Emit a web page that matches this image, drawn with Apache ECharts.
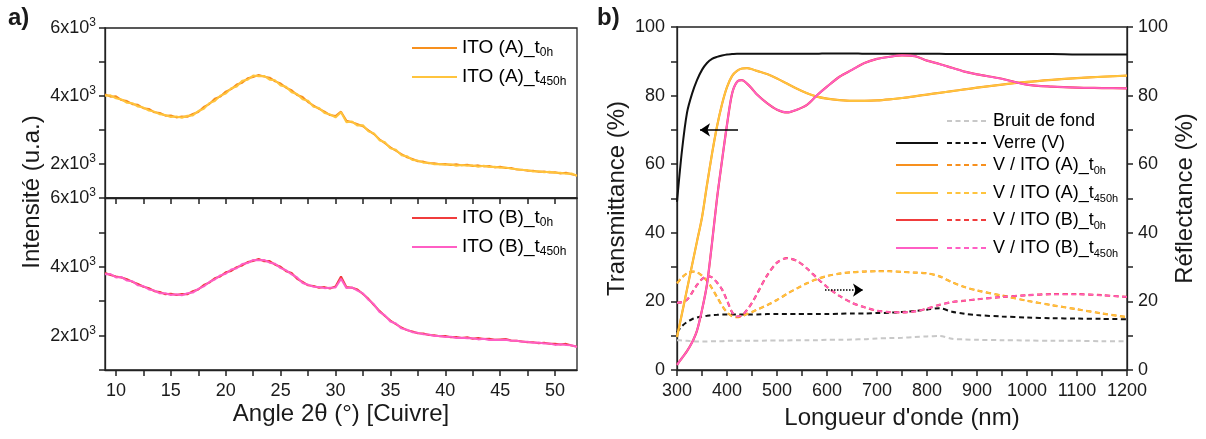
<!DOCTYPE html>
<html><head><meta charset="utf-8">
<script src="https://cdn.jsdelivr.net/npm/echarts@6/dist/echarts.min.js"></script>
<style>html,body{margin:0;padding:0;background:#fff;} #c{width:1206px;height:439px;}</style>
</head><body><div id="c"></div>
<script>
const FONT = '"Liberation Sans", Arial, sans-serif';
const TXT = '#1a1a1a';

// ---------- Panel a) XRD ----------
const xrdAngle = [9,9.5,10,10.5,11,11.5,12,12.5,13,13.5,14,14.5,15,15.5,16,16.5,17,17.5,18,18.5,19,19.5,20,20.5,21,21.5,22,22.5,23,23.5,24,24.5,25,25.5,26,26.5,27,27.5,28,28.5,29,29.5,30,30.5,31,31.5,32,32.5,33,33.5,34,34.5,35,35.5,36,36.5,37,37.5,38,38.5,39,39.5,40,40.5,41,41.5,42,42.5,43,43.5,44,44.5,45,45.5,46,46.5,47,47.5,48,48.5,49,49.5,50,50.5,51,51.5,52];
const itoA_0h = [4050,3980,3990,3880,3850,3760,3740,3640,3620,3520,3500,3420,3430,3370,3400,3390,3470,3530,3680,3760,3920,3980,4130,4200,4340,4390,4520,4560,4620,4570,4540,4430,4370,4240,4170,4030,3970,3820,3720,3620,3540,3440,3410,3540,3270,3230,3170,3110,2990,2880,2730,2610,2490,2390,2290,2200,2150,2080,2070,2020,2020,1990,2000,1970,1990,1960,1980,1940,1960,1930,1940,1900,1920,1880,1880,1840,1830,1800,1800,1770,1780,1750,1760,1720,1740,1700,1660];
const itoA_450h = [4010,4020,3930,3900,3800,3790,3690,3660,3570,3540,3460,3440,3380,3400,3360,3420,3430,3560,3620,3790,3850,4010,4070,4230,4280,4450,4480,4600,4580,4590,4480,4460,4310,4270,4110,4060,3900,3860,3680,3650,3500,3460,3370,3520,3230,3250,3130,3140,2960,2900,2700,2640,2460,2420,2260,2230,2120,2100,2040,2040,1990,2000,1980,1990,1950,1970,1950,1960,1920,1950,1910,1920,1890,1900,1860,1850,1820,1820,1780,1790,1760,1770,1740,1740,1710,1720,1650];
const itoB_0h = [3820,3760,3720,3690,3640,3560,3500,3420,3380,3290,3270,3200,3220,3180,3210,3200,3290,3340,3470,3540,3670,3720,3840,3880,3990,4040,4140,4170,4230,4160,4170,4060,4000,3870,3820,3650,3560,3460,3440,3390,3410,3370,3430,3720,3410,3390,3340,3210,3070,2890,2720,2570,2440,2330,2240,2160,2120,2070,2060,2020,2010,1980,1990,1950,1960,1930,1950,1910,1930,1900,1910,1880,1890,1900,1860,1850,1830,1810,1810,1780,1790,1760,1760,1740,1760,1710,1680];
const itoB_450h = [3780,3790,3690,3700,3600,3580,3460,3440,3340,3310,3230,3230,3180,3200,3170,3230,3250,3360,3430,3560,3630,3750,3800,3920,3960,4080,4110,4200,4190,4200,4120,4090,3960,3900,3780,3690,3530,3480,3420,3410,3380,3390,3400,3650,3380,3400,3310,3230,3040,2910,2690,2590,2410,2350,2210,2170,2100,2080,2040,2030,1990,1990,1960,1970,1930,1940,1920,1920,1890,1910,1870,1880,1870,1880,1850,1850,1820,1820,1790,1800,1770,1770,1730,1750,1730,1720,1670];
const xrdTicks = [10,12.5,15,17.5,20,22.5,25,27.5,30,32.5,35,37.5,40,42.5,45,47.5,50];
const xrdLabels = [10,15,20,25,30,35,40,45,50];
const intensityLabels = [2000,4000,6000];

// ---------- Panel b) UV-Vis ----------
const wl = [300,310,320,330,340,350,360,370,380,390,400,410,420,430,440,450,460,480,500,520,540,560,580,600,625,650,675,700,725,750,775,800,825,850,875,900,950,1000,1050,1100,1150,1200];
const T_verre = [49,64,75,80.5,84.5,87.5,89.5,90.7,91.3,91.7,92.0,92.1,92.2,92.2,92.2,92.2,92.2,92.2,92.2,92.2,92.2,92.2,92.2,92.3,92.3,92.3,92.2,92.2,92.2,92.2,92.2,92.2,92.2,92.1,92.1,92.1,92.1,92.1,92.1,92.0,92.0,92.0];
const T_A = [9.6,16.5,23.5,30.5,37.5,44.5,54,63,71,77.5,82.5,85.7,87.2,87.9,88.0,87.7,87.2,86.3,85.0,83.5,82.0,80.7,79.7,79.1,78.7,78.5,78.5,78.6,78.9,79.3,79.8,80.3,80.8,81.3,81.8,82.3,83.2,84.0,84.6,85.1,85.5,85.8];
const T_B = [1.5,3.5,5.5,8,11.5,17.5,25,37,50,61,71.5,80.5,84,84.5,83.5,82,80.3,77.8,75.9,75.1,75.9,77.3,80.1,82.6,85.5,87.5,89.5,90.7,91.3,91.7,91.5,90.2,89.2,88.1,87.0,86.2,84.9,83.2,82.6,82.3,82.2,82.1];
const R_bruit = [8.7,8.6,8.5,8.4,8.3,8.3,8.3,8.4,8.4,8.4,8.5,8.5,8.5,8.5,8.5,8.5,8.5,8.6,8.6,8.6,8.7,8.7,8.7,8.8,8.8,8.9,9.0,9.2,9.3,9.4,9.6,9.8,9.9,9.1,8.9,8.8,8.7,8.6,8.5,8.5,8.4,8.4];
const R_verre = [11,12.8,14,14.8,15.3,15.6,15.8,16.0,16.1,16.2,16.2,16.2,16.2,16.2,16.2,16.2,16.2,16.3,16.3,16.3,16.3,16.3,16.3,16.3,16.4,16.5,16.5,16.6,16.7,16.9,17.2,17.6,18.0,17.0,16.4,16.0,15.6,15.3,15.1,15.0,14.9,14.8];
const R_A = [25.3,27.0,28.2,28.7,28.5,27.5,26.0,23.8,21.3,18.8,16.8,15.7,15.4,15.7,16.3,16.9,17.6,18.9,20.4,22.2,23.8,25.3,26.5,27.4,28.1,28.5,28.7,28.8,28.8,28.6,28.4,28.2,27.3,25.6,24.2,23.2,21.7,20.2,18.9,17.7,16.5,15.4];
const R_B = [19.6,19.8,20.5,22.5,24.8,26.5,27.3,27.0,25.5,23.5,20.3,16.9,15.6,15.9,17.5,19.6,22.2,27.5,31.3,32.6,31.8,29.6,26.8,24.2,21.6,19.6,18.3,17.3,16.9,16.8,17.1,17.9,19.0,19.8,20.2,20.6,21.3,21.8,22.1,22.1,21.8,21.3];
const wlTicks = [300,350,400,450,500,550,600,650,700,750,800,850,900,950,1000,1050,1100,1150,1200];
const wlLabels = [300,400,500,600,700,800,900,1000,1100,1200];
const pctTicks = [0,10,20,30,40,50,60,70,80,90,100];
const pctLabels = [0,20,40,60,80,100];
const arrowT = [[422,70],[346,70]];
const arrowR = [[596,23.3],[672,23.3]];

const COL = {orange:'#F7901E', yellow:'#FFC43D', red:'#F03C3C', pink:'#FF5EC4', gray:'#C8C8C8', black:'#111111'};

const legendA = [
  {main:'ITO (A)_t', sub:'0h', color:COL.orange, y:48},
  {main:'ITO (A)_t', sub:'450h', color:COL.yellow, y:77},
  {main:'ITO (B)_t', sub:'0h', color:COL.red, y:218},
  {main:'ITO (B)_t', sub:'450h', color:COL.pink, y:247}
];
const legendB = [
  {main:'Bruit de fond', sub:'', color:COL.gray, solid:false, y:121},
  {main:'Verre (V)', sub:'', color:COL.black, solid:true, y:143},
  {main:'V / ITO (A)_t', sub:'0h', color:COL.orange, solid:true, y:165},
  {main:'V / ITO (A)_t', sub:'450h', color:COL.yellow, solid:true, y:193},
  {main:'V / ITO (B)_t', sub:'0h', color:COL.red, solid:true, y:220},
  {main:'V / ITO (B)_t', sub:'450h', color:COL.pink, solid:true, y:248}
];

function zip(x, y) { return x.map((v, i) => [v, y[i]]); }

const richLegendA = {
  n: {fontSize: 19, fontFamily: FONT, color: TXT, lineHeight: 22},
  s: {fontSize: 12, fontFamily: FONT, color: TXT, lineHeight: 12, verticalAlign: 'bottom'}
};
const richLegendB = {
  n: {fontSize: 18, fontFamily: FONT, color: TXT, lineHeight: 22},
  s: {fontSize: 11, fontFamily: FONT, color: TXT, lineHeight: 12, verticalAlign: 'bottom'}
};
const richSup = {
  b: {fontSize: 18, fontFamily: FONT, color: TXT, lineHeight: 22},
  s: {fontSize: 12, fontFamily: FONT, color: TXT, lineHeight: 12, verticalAlign: 'top'}
};

const graphics = [];
legendA.forEach(e => {
  graphics.push({type:'line', shape:{x1:412, y1:e.y, x2:457, y2:e.y}, style:{stroke:e.color, lineWidth:2}, silent:true});
  graphics.push({type:'text', x:462, y:e.y, style:{text:'{n|' + e.main + '}' + (e.sub ? '{s|' + e.sub + '}' : ''), rich:richLegendA, verticalAlign:'middle', align:'left'}, silent:true});
});
legendB.forEach(e => {
  if (e.solid) graphics.push({type:'line', shape:{x1:896, y1:e.y, x2:938, y2:e.y}, style:{stroke:e.color, lineWidth:2}, silent:true});
  graphics.push({type:'line', shape:{x1:947, y1:e.y, x2:989, y2:e.y}, style:{stroke:e.color, lineWidth:2, lineDash:[5,3.5]}, silent:true});
  graphics.push({type:'text', x:993, y:e.y, style:{text:'{n|' + e.main + '}' + (e.sub ? '{s|' + e.sub + '}' : ''), rich:richLegendB, verticalAlign:'middle', align:'left'}, silent:true});
});
graphics.push({type:'text', x:8, y:6, style:{text:'a)', font:'bold 24px ' + FONT, fill:TXT}, silent:true});
graphics.push({type:'text', x:597, y:6, style:{text:'b)', font:'bold 24px ' + FONT, fill:TXT}, silent:true});
graphics.push({type:'text', x:32, y:192, rotation:Math.PI/2, style:{text:'Intensité (u.a.)', font:'24px ' + FONT, fill:TXT, align:'center', verticalAlign:'middle'}, silent:true});

const ls = () => ({color:'#222', width:1.3});
const tls = () => ({color:'#222', width:1.5});
const tickLabel = () => ({fontSize:18, fontFamily:FONT, color:TXT});

function xrdXAxis(gridIndex, withLabels) {
  return {
    type:'value', gridIndex, min:9, max:52,
    axisLine:{show:true, onZero:false, lineStyle:ls()},
    axisTick:{show:true, inside:false, length:6, lineStyle:tls(), customValues:xrdTicks},
    axisLabel: withLabels ? Object.assign({show:true, margin:12, customValues:xrdLabels, formatter: v => String(v)}, tickLabel()) : {show:false},
    splitLine:{show:false},
    name: withLabels ? 'Angle 2θ (°) [Cuivre]' : '',
    nameLocation:'middle', nameGap:32,
    nameTextStyle:{fontSize:24, fontFamily:FONT, color:TXT}
  };
}
function xrdYAxis(gridIndex) {
  return {
    type:'value', gridIndex, min:1000, max:6000, interval:1000,
    axisLine:{show:true, onZero:false, lineStyle:ls()},
    axisTick:{show:true, inside:false, length:6, lineStyle:tls()},
    axisLabel:{show:true, margin:9, customValues:intensityLabels,
      formatter: v => '{b|' + (v/1000) + 'x10}{s|3}', rich:richSup},
    splitLine:{show:false}
  };
}
function pctYAxis(position, name, gap, margin) {
  return {
    type:'value', gridIndex:2, min:0, max:100, position,
    axisLine:{show:true, onZero:false, lineStyle:ls()},
    axisTick:{show:true, inside:false, length:6, lineStyle:tls(), customValues:pctTicks},
    axisLabel:Object.assign({show:true, margin, customValues:pctLabels, formatter: v => String(v)}, tickLabel()),
    splitLine:{show:false},
    name, nameLocation:'middle', nameGap:gap, nameRotate:90,
    nameTextStyle:{fontSize:24, fontFamily:FONT, color:TXT}
  };
}

function lineSeries(name, xi, yi, data, color, width, dashed, extra) {
  return Object.assign({
    name, type:'line', xAxisIndex:xi, yAxisIndex:yi, data, symbol:'none', silent:true,
    lineStyle:{color, width, type: dashed ? [5,3.5] : 'solid'},
    itemStyle:{color}, emphasis:{disabled:true}
  }, extra || {});
}

const arrowMark = (pts, type) => ({
  silent:true, symbol:['none','arrow'], symbolSize:10,
  label:{show:false}, emphasis:{disabled:true},
  itemStyle:{color:'#000'},
  lineStyle:{color:'#000', width:1.5, type},
  data:[[{coord:pts[0]},{coord:pts[1]}]]
});

const option = {
  animation:false,
  textStyle:{fontFamily:FONT},
  grid:[
    {left:105, top:28, width:472, height:170, show:true, borderColor:'#222', borderWidth:1.3, backgroundColor:'transparent'},
    {left:105, top:198, width:472, height:172, show:true, borderColor:'#222', borderWidth:1.3, backgroundColor:'transparent'},
    {left:677, top:27, width:450, height:343, show:true, borderColor:'#222', borderWidth:1.3, backgroundColor:'transparent'}
  ],
  xAxis:[
    xrdXAxis(0, false),
    xrdXAxis(1, true),
    {type:'value', gridIndex:2, min:300, max:1200,
     axisLine:{show:true, onZero:false, lineStyle:ls()},
     axisTick:{show:true, inside:false, length:6, lineStyle:tls(), customValues:wlTicks},
     axisLabel:Object.assign({show:true, margin:12, customValues:wlLabels, formatter: v => String(v)}, tickLabel()),
     splitLine:{show:false},
     name:"Longueur d'onde (nm)", nameLocation:'middle', nameGap:36,
     nameTextStyle:{fontSize:24, fontFamily:FONT, color:TXT}}
  ],
  yAxis:[
    xrdYAxis(0),
    xrdYAxis(1),
    pctYAxis('left', 'Transmittance (%)', 48, 12),
    pctYAxis('right', 'Réflectance (%)', 46, 11)
  ],
  graphic:graphics,
  series:[
    lineSeries('ITO (A)_t0h', 0, 0, zip(xrdAngle, itoA_0h), COL.orange, 2, false),
    lineSeries('ITO (A)_t450h', 0, 0, zip(xrdAngle, itoA_450h), COL.yellow, 2, false),
    lineSeries('ITO (B)_t0h', 1, 1, zip(xrdAngle, itoB_0h), COL.red, 2, false),
    lineSeries('ITO (B)_t450h', 1, 1, zip(xrdAngle, itoB_450h), COL.pink, 2, false),

    lineSeries('Bruit de fond (R)', 2, 3, zip(wl, R_bruit), COL.gray, 2, true, {smooth:0.3}),
    lineSeries('Verre (V) (R)', 2, 3, zip(wl, R_verre), COL.black, 2, true, {smooth:0.3, markLine:arrowMark(arrowR, 'dotted')}),
    lineSeries('V / ITO (A)_t0h (R)', 2, 3, zip(wl, R_A), COL.orange, 2.2, true, {smooth:0.3}),
    lineSeries('V / ITO (A)_t450h (R)', 2, 3, zip(wl, R_A), COL.yellow, 1.6, true, {smooth:0.3}),
    lineSeries('V / ITO (B)_t0h (R)', 2, 3, zip(wl, R_B), COL.red, 2.2, true, {smooth:0.3}),
    lineSeries('V / ITO (B)_t450h (R)', 2, 3, zip(wl, R_B), COL.pink, 1.6, true, {smooth:0.3}),

    lineSeries('Verre (V) (T)', 2, 2, zip(wl, T_verre), COL.black, 2, false, {smooth:0.3, markLine:arrowMark(arrowT, 'solid')}),
    lineSeries('V / ITO (A)_t0h (T)', 2, 2, zip(wl, T_A), COL.orange, 2.2, false, {smooth:0.3}),
    lineSeries('V / ITO (A)_t450h (T)', 2, 2, zip(wl, T_A), COL.yellow, 1.8, false, {smooth:0.3}),
    lineSeries('V / ITO (B)_t0h (T)', 2, 2, zip(wl, T_B), COL.red, 2.2, false, {smooth:0.3}),
    lineSeries('V / ITO (B)_t450h (T)', 2, 2, zip(wl, T_B), COL.pink, 1.8, false, {smooth:0.3})
  ]
};

const chart = echarts.init(document.getElementById('c'), null, {renderer:'canvas'});
chart.setOption(option);
</script>
</body></html>
